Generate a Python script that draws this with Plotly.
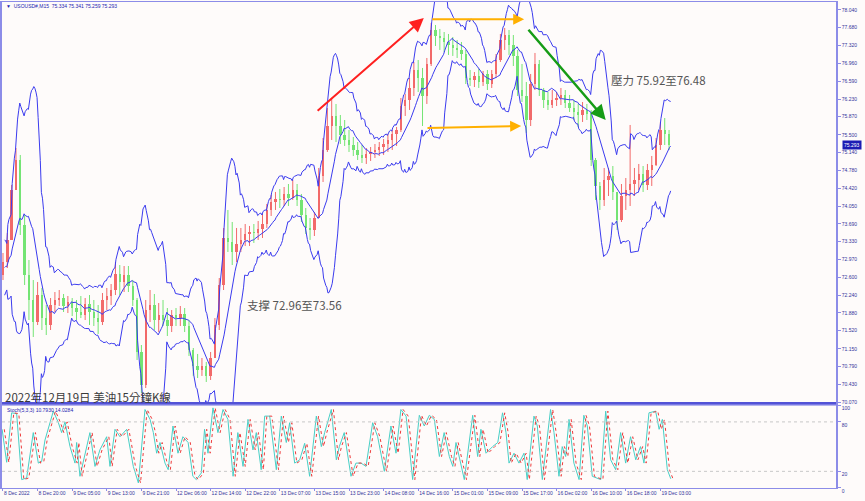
import numpy as np
import pandas as pd
import plotly.graph_objects as go

# ---------------- data (hourly candles) ----------------
time_labels = ["8 Dec 2022", "8 Dec 20:00", "9 Dec 05:00", "9 Dec 13:00", "9 Dec 21:00",
               "12 Dec 06:00", "12 Dec 14:00", "12 Dec 22:00", "13 Dec 07:00", "13 Dec 15:00",
               "13 Dec 23:00", "14 Dec 08:00", "14 Dec 16:00", "15 Dec 01:00", "15 Dec 09:00",
               "15 Dec 17:00", "16 Dec 02:00", "16 Dec 10:00", "16 Dec 18:00", "19 Dec 03:00"]
label_index = [0, 8, 16, 24, 32, 40, 48, 56, 64, 72, 80, 88, 96, 104, 112, 120, 128, 136, 144, 152]

opens = [72.652, 72.916, 73.364, 74.38, 74.99, 73.669, 72.652, 72.144, 71.696, 72.245,
         71.777, 71.635, 72.042, 72.144, 72.184, 72.022, 72.103, 71.981, 71.9, 71.839,
         72.062, 71.9, 71.777, 71.696, 72.144, 72.225, 72.347, 72.673, 72.51, 72.652,
         72.429, 72.144, 71.087, 70.416, 71.94, 72.042, 71.737, 71.839, 71.737, 71.615,
         71.839, 71.777, 71.859, 71.615, 71.128, 70.803, 70.721, 70.803, 70.6, 70.965,
         71.635, 72.449, 73.405, 73.323, 73.12, 73.283, 73.364, 73.486, 73.526, 73.506,
         73.588, 73.689, 73.974, 74.136, 74.197, 74.177, 74.299, 74.218, 74.38, 74.177,
         73.872, 73.608, 73.567, 73.811, 74.665, 75.194, 75.681, 75.885, 75.681, 75.498,
         75.397, 75.295, 75.194, 75.092, 75.031, 75.112, 75.153, 75.194, 75.254, 75.315,
         75.397, 75.519, 75.6, 76.088, 76.21, 76.454, 76.82, 76.657, 76.291, 76.942,
         77.633, 77.511, 77.47, 77.389, 77.328, 77.267, 77.227, 77.145, 76.657, 76.617,
         76.698, 76.576, 76.739, 76.535, 76.739, 77.023, 77.43, 77.531, 77.328, 77.105,
         76.413, 76.291, 75.803, 76.535, 76.942, 76.413, 76.21, 76.108, 76.21, 76.251,
         76.312, 76.149, 76.047, 75.966, 75.905, 76.007, 75.925, 74.99, 74.462, 74.177,
         74.584, 74.665, 74.34, 73.77, 74.258, 74.38, 74.502, 74.584, 74.706, 74.482,
         74.787, 74.889, 75.295, 75.6, 75.519]
highs = [73.1, 73.506, 74.482, 75.234, 75.092, 73.872, 72.957, 72.55, 72.51, 72.388,
         72.042, 72.184, 72.306, 72.347, 72.266, 72.225, 72.184, 72.144, 72.225, 72.184,
         72.245, 72.144, 72.042, 72.286, 72.388, 72.469, 72.916, 72.855, 72.835, 72.835,
         72.55, 72.184, 71.229, 72.144, 72.347, 72.266, 72.083, 72.144, 71.981, 71.94,
         71.981, 72.022, 71.981, 71.737, 71.168, 71.047, 70.965, 70.884, 71.087, 71.777,
         72.591, 73.608, 73.974, 73.73, 73.608, 73.608, 73.689, 73.649, 73.689, 73.75,
         73.892, 74.096, 74.279, 74.34, 74.401, 74.441, 74.502, 74.584, 74.502, 74.299,
         74.014, 73.811, 73.933, 74.828, 75.437, 76.047, 76.251, 76.129, 75.905, 75.803,
         75.6, 75.458, 75.356, 75.295, 75.234, 75.254, 75.315, 75.356, 75.417, 75.519,
         75.6, 75.661, 76.251, 76.332, 76.657, 76.983, 77.023, 76.861, 77.064, 77.775,
         77.735, 77.654, 77.592, 77.552, 77.491, 77.43, 77.389, 77.227, 76.82, 76.779,
         76.84, 76.8, 76.82, 76.82, 77.145, 77.552, 77.674, 77.633, 77.531, 77.227,
         76.942, 76.576, 76.739, 77.166, 77.023, 76.454, 76.373, 76.413, 76.373, 76.454,
         76.413, 76.312, 76.21, 76.129, 76.169, 76.129, 76.007, 75.031, 74.543, 74.828,
         74.828, 74.868, 74.34, 74.502, 74.624, 75.702, 74.828, 74.909, 74.868, 74.909,
         75.072, 75.437, 75.763, 75.844, 75.6]
lows = [72.55, 72.794, 73.364, 74.38, 73.465, 72.449, 71.737, 71.392, 71.635, 71.534,
        71.432, 71.534, 71.9, 72.022, 71.9, 71.879, 71.818, 71.737, 71.777, 71.737,
        71.635, 71.615, 71.453, 71.635, 71.94, 72.042, 72.245, 72.245, 72.306, 72.306,
        72.022, 70.924, 70.253, 70.355, 71.696, 71.534, 71.493, 71.615, 71.412, 71.493,
        71.615, 71.615, 71.493, 71.006, 70.6, 70.558, 70.6, 70.477, 70.518, 70.965,
        71.534, 72.347, 73.12, 72.855, 72.916, 73.12, 73.242, 73.242, 73.303, 73.364,
        73.405, 73.608, 73.852, 73.974, 74.014, 74.055, 74.055, 74.177, 74.055, 73.73,
        73.486, 73.364, 73.445, 73.811, 74.543, 75.153, 75.397, 75.356, 75.315, 75.275,
        75.153, 75.072, 74.99, 74.929, 74.909, 74.97, 75.031, 75.072, 75.092, 75.153,
        75.194, 75.275, 75.559, 75.885, 76.007, 76.291, 76.373, 75.681, 76.129, 76.901,
        77.308, 77.227, 77.186, 77.125, 77.105, 77.064, 77.023, 76.535, 76.495, 76.474,
        76.454, 76.495, 76.413, 76.454, 76.657, 76.983, 77.227, 77.125, 76.901, 76.291,
        76.169, 75.539, 75.681, 76.413, 76.291, 76.047, 76.007, 76.047, 76.088, 76.108,
        76.047, 75.966, 75.803, 75.661, 75.763, 75.803, 74.868, 74.177, 73.974, 74.055,
        74.258, 74.177, 73.567, 73.73, 73.974, 74.055, 74.258, 74.38, 74.34, 74.38,
        74.462, 74.868, 75.194, 75.295, 75.194]
closes = [72.916, 73.364, 74.38, 74.99, 73.669, 72.652, 72.144, 71.696, 72.245, 71.777,
          71.635, 72.042, 72.144, 72.184, 72.022, 72.103, 71.981, 71.9, 71.839, 72.062,
          71.9, 71.777, 71.696, 72.144, 72.225, 72.347, 72.673, 72.51, 72.652, 72.429,
          72.144, 71.087, 70.416, 71.94, 72.042, 71.737, 71.839, 71.737, 71.615, 71.839,
          71.777, 71.859, 71.615, 71.128, 70.803, 70.721, 70.803, 70.6, 70.965, 71.635,
          72.449, 73.405, 73.323, 73.12, 73.283, 73.364, 73.486, 73.526, 73.506, 73.588,
          73.689, 73.974, 74.136, 74.197, 74.177, 74.299, 74.218, 74.38, 74.177, 73.872,
          73.608, 73.567, 73.811, 74.665, 75.194, 75.681, 75.885, 75.681, 75.498, 75.397,
          75.295, 75.194, 75.092, 75.031, 75.112, 75.153, 75.194, 75.254, 75.315, 75.397,
          75.519, 75.6, 76.088, 76.21, 76.454, 76.82, 76.657, 76.291, 76.942, 77.633,
          77.511, 77.47, 77.389, 77.328, 77.267, 77.227, 77.145, 76.657, 76.617, 76.698,
          76.576, 76.739, 76.535, 76.739, 77.023, 77.43, 77.531, 77.328, 77.105, 76.413,
          76.291, 75.803, 76.535, 76.942, 76.413, 76.21, 76.108, 76.21, 76.251, 76.312,
          76.149, 76.047, 75.966, 75.905, 76.007, 75.925, 74.99, 74.462, 74.177, 74.584,
          74.665, 74.34, 73.77, 74.258, 74.38, 74.502, 74.584, 74.706, 74.482, 74.787,
          74.889, 75.295, 75.6, 75.519, 75.293]

# Stochastic %K (5,3,3) read at its turning points (x in hourly bar units)
stoch_x = [-0.2, 0.85, 2.0, 3.16, 4.32, 5.47, 7.0, 8.17, 8.94, 9.71, 11.64, 12.8, 13.56, 14.33, 15.5,
           16.65, 17.03, 17.8, 20.1, 21.27, 22.4, 23.97, 24.74, 25.9, 27.05, 28.6, 30.13, 31.3, 32.83,
           34.0, 34.76, 35.53, 36.3, 37.46, 38.2,
           39.3, 40.46, 41.6, 42.8, 43.9, 44.7, 45.85, 46.6, 47.4, 48.55, 49.7, 50.87, 52.0, 53.2, 54.3,
           55.5, 56.65, 57.8, 58.57, 59.7, 60.5, 61.66, 63.2, 64.35, 65.5, 66.28, 67.44, 68.6, 69.75,
           70.9, 72.45, 73.6, 74.37, 75.9, 77.07,
           77.76, 78.9, 80.46, 81.6, 82.77, 83.93, 85.47, 86.63, 88.17, 89.7, 90.87, 92.0, 93.2, 94.72,
           96.26, 97.4, 98.57, 99.72, 100.9, 102.0, 103.2, 104.0, 104.74, 106.66, 108.6, 109.75, 110.5,
           111.68, 113.2, 114.4, 115.5, 116.3,
           117.0, 118.15, 119.3, 120.46, 121.2, 122.77, 123.54, 124.7, 126.6, 127.4, 128.55, 129.3,
           130.1, 130.87, 132.0, 133.2, 134.3, 135.1, 136.25, 138.2, 139.35, 140.5, 141.66, 142.8,
           143.97, 145.1, 146.3, 147.4, 148.2, 149.36, 150.9, 151.7, 152.45, 153.6, 154.4]
stoch_k = [71, 31, 91, 90, 10, 12, 67, 30, 32, 58, 93, 79, 67, 80, 50,
           30, 55, 14, 67, 26, 46, 62, 26, 71, 62, 71, 26, 6, 95,
           83, 67, 42, 55, 30, 22,
           75, 42, 62, 55, 14, 10, 18, 71, 42, 97, 67, 95, 83, 14, 67,
           26, 83, 46, 67, 22, 87, 87, 22, 87, 55, 79, 30, 34, 54,
           14, 87, 50, 67, 95, 34,
           50, 67, 14, 30, 30, 26, 79, 62, 20, 75, 42, 95, 87, 10,
           88, 75, 88, 83, 38, 67, 38, 26, 55, 10, 88, 38, 71,
           42, 50, 55, 91, 67,
           30, 42, 30, 42, 10, 87, 75, 10, 95, 67, 14, 50,
           38, 83, 30, 10, 88, 75, 14, 10, 93, 34, 22, 67,
           30, 62, 34, 50, 30, 91, 93, 71, 83, 22, 11]

price_ticks = [78.040, 77.680, 77.320, 76.960, 76.590, 76.230, 75.870, 75.500, 75.140, 74.780,
               74.420, 74.050, 73.690, 73.330, 72.970, 72.600, 72.240, 71.880, 71.520, 71.150,
               70.790, 70.430, 70.070]
stoch_ticks = [0, 20, 80, 100]
last_price = 75.293

# ---------------- derived indicator: Bollinger bands on the bar path ----------------
pseudo, pseudo_x = [], []
for i, (o, h, l, c) in enumerate(zip(opens, highs, lows, closes)):
    seq = [o, l, h, c] if c >= o else [o, h, l, c]
    pseudo += seq
    pseudo_x += [i - 0.375 + 0.25 * k for k in range(4)]
s = pd.Series(pseudo)
mid = s.rolling(20, min_periods=4).mean()
sd = s.rolling(20, min_periods=4).std(ddof=0)
upper = mid + 2.6 * sd
lower = mid - 2.6 * sd

UP = "#f26a6a"
DN = "#74e474"
BAND = "#3b3bef"
FRAME = "#8c8ce8"
TXT = "#33339a"

fig = go.Figure()

idx = list(range(len(closes)))
for is_up, col in [(True, UP), (False, DN)]:
    xs, base, hgt, wx, wy = [], [], [], [], []
    for i in idx:
        o, h, l, c = opens[i], highs[i], lows[i], closes[i]
        if (c >= o) != is_up:
            continue
        xs.append(i)
        base.append(min(o, c))
        hgt.append(max(abs(c - o), 0.012))
        wx += [i, i, None]
        wy += [l, h, None]
    fig.add_trace(go.Scatter(x=wx, y=wy, mode="lines", line=dict(color=col, width=1),
                             hoverinfo="skip", xaxis="x", yaxis="y"))
    fig.add_trace(go.Bar(x=xs, y=hgt, base=base, width=0.55, marker=dict(color=col, line=dict(width=0)),
                         xaxis="x", yaxis="y"))

for band in (upper, mid, lower):
    fig.add_trace(go.Scatter(x=pseudo_x, y=band, mode="lines", line=dict(color=BAND, width=1),
                             xaxis="x", yaxis="y"))

# stochastic
fig.add_trace(go.Scatter(x=stoch_x, y=stoch_k, mode="lines", line=dict(color="#48cfc6", width=1),
                         xaxis="x2", yaxis="y2"))
fig.add_trace(go.Scatter(x=[v + 0.5 for v in stoch_x], y=stoch_k, mode="lines",
                         line=dict(color="#ee3b3b", width=1, dash="dot"), xaxis="x2", yaxis="y2"))

shapes = []
for lv in (20, 80):
    shapes.append(dict(type="line", xref="paper", yref="y2", x0=0, x1=1, y0=lv, y1=lv,
                       line=dict(color="#c8c8c8", width=1, dash="dot")))
shapes.append(dict(type="line", xref="paper", yref="paper", x0=0, x1=1, y0=0.1749, y1=0.1749,
                   line=dict(color="#5252d6", width=2)))
shapes.append(dict(type="line", xref="paper", yref="paper", x0=0, x1=1, y0=0.1708, y1=0.1708,
                   line=dict(color="#6a6ae0", width=1)))

ann = []
def arrow(x_head, y_head, x_tail, y_tail, color, width, size):
    ann.append(dict(x=x_head, y=y_head, ax=x_tail, ay=y_tail, xref="x", yref="y", axref="x", ayref="y",
                    showarrow=True, arrowhead=2, arrowsize=size, arrowwidth=width, arrowcolor=color,
                    text="", standoff=0, startstandoff=0))

arrow(97.3, 77.877, 72.4, 75.966, "#ff2020", 2, 1.4)
arrow(120.5, 77.85, 98.9, 77.85, "#ffb000", 2, 1.1)
arrow(119.8, 75.681, 97.8, 75.641, "#ffb000", 2, 1.1)
arrow(139.35, 75.803, 121.2, 77.668, "#169c16", 2.5, 1.2)

cjk = "Noto Sans CJK TC"
ann.append(dict(x=0.7278, y=0.8395, xref="paper", yref="paper", xanchor="left", yanchor="middle",
                text="壓力 75.92至76.48", showarrow=False, font=dict(family=cjk, size=11.5, color="#555555")))
ann.append(dict(x=0.2914, y=0.3765, xref="paper", yref="paper", xanchor="left", yanchor="middle",
                text="支撑 72.96至73.56", showarrow=False, font=dict(family=cjk, size=11.5, color="#555555")))
ann.append(dict(x=0.0012, y=0.1872, xref="paper", yref="paper", xanchor="left", yanchor="middle",
                text="2022年12月19日 美油15分鐘K線", showarrow=False,
                font=dict(family=cjk, size=11.5, color="#3a3a3a")))
ann.append(dict(x=0.002, y=0.9918, xref="paper", yref="paper", xanchor="left", yanchor="middle",
                text="▼  USOUSD#,M15  75.334 75.341 75.259 75.293", showarrow=False,
                font=dict(family="Liberation Sans", size=5, color="#2424b0")))
ann.append(dict(x=0.004, y=0.1605, xref="paper", yref="paper", xanchor="left", yanchor="middle",
                text="Stoch(5,3,3) 10.7930 14.0284", showarrow=False,
                font=dict(family="Liberation Sans", size=5, color="#2424b0")))
ann.append(dict(x=1, y=last_price, xref="paper", yref="y", xanchor="left", yanchor="middle", xshift=6,
                text="75.293", showarrow=False, bgcolor="#1c1cb4", borderpad=1,
                font=dict(family="Liberation Sans", size=5, color="white")))

tickfont = dict(family="Liberation Sans", size=5, color=TXT)
fig.update_layout(
    width=865, height=501, margin=dict(l=2, r=29, t=2, b=13, autoexpand=False),
    paper_bgcolor="#fefbfa", plot_bgcolor="#fefbfa", showlegend=False,
    barmode="overlay", bargap=0,
    xaxis=dict(domain=[0, 1], anchor="y", range=[-0.23, 192.6], showticklabels=False, showgrid=False,
               zeroline=False, showline=True, mirror=True, linecolor=FRAME, linewidth=1, automargin=False),
    xaxis2=dict(domain=[0, 1], anchor="y2", range=[-0.23, 192.6], matches="x",
                tickvals=label_index, ticktext=time_labels, ticks="outside", ticklen=2, tickangle=0,
                tickcolor=FRAME, tickfont=tickfont, ticklabelposition="outside right",
                showgrid=False, zeroline=False, showline=True, mirror=True, linecolor=FRAME, linewidth=1,
                automargin=False),
    yaxis=dict(domain=[0.1749, 1], anchor="x", side="right", range=[70.05, 78.202],
               tickvals=price_ticks, ticktext=[f"{v:.3f}" for v in price_ticks], ticks="outside",
               ticklen=3, tickcolor=FRAME, tickfont=tickfont, showgrid=False, zeroline=False,
               showline=True, mirror=True, linecolor=FRAME, linewidth=1.5, automargin=False),
    yaxis2=dict(domain=[0, 0.1708], anchor="x2", side="right", range=[-0.2, 100.5],
                tickvals=stoch_ticks, ticktext=[str(v) for v in stoch_ticks], ticks="outside",
                ticklen=3, tickcolor=FRAME, tickfont=tickfont, showgrid=False, zeroline=False,
                ticklabelshift=3,
                showline=True, mirror=True, linecolor=FRAME, linewidth=1.5, automargin=False),
    shapes=shapes, annotations=ann,
)

fig.write_html("out.html", config={"displayModeBar": False},
               post_script="document.body.style.margin='0';document.body.style.padding='0';"
                           "document.body.style.overflow='hidden';")
